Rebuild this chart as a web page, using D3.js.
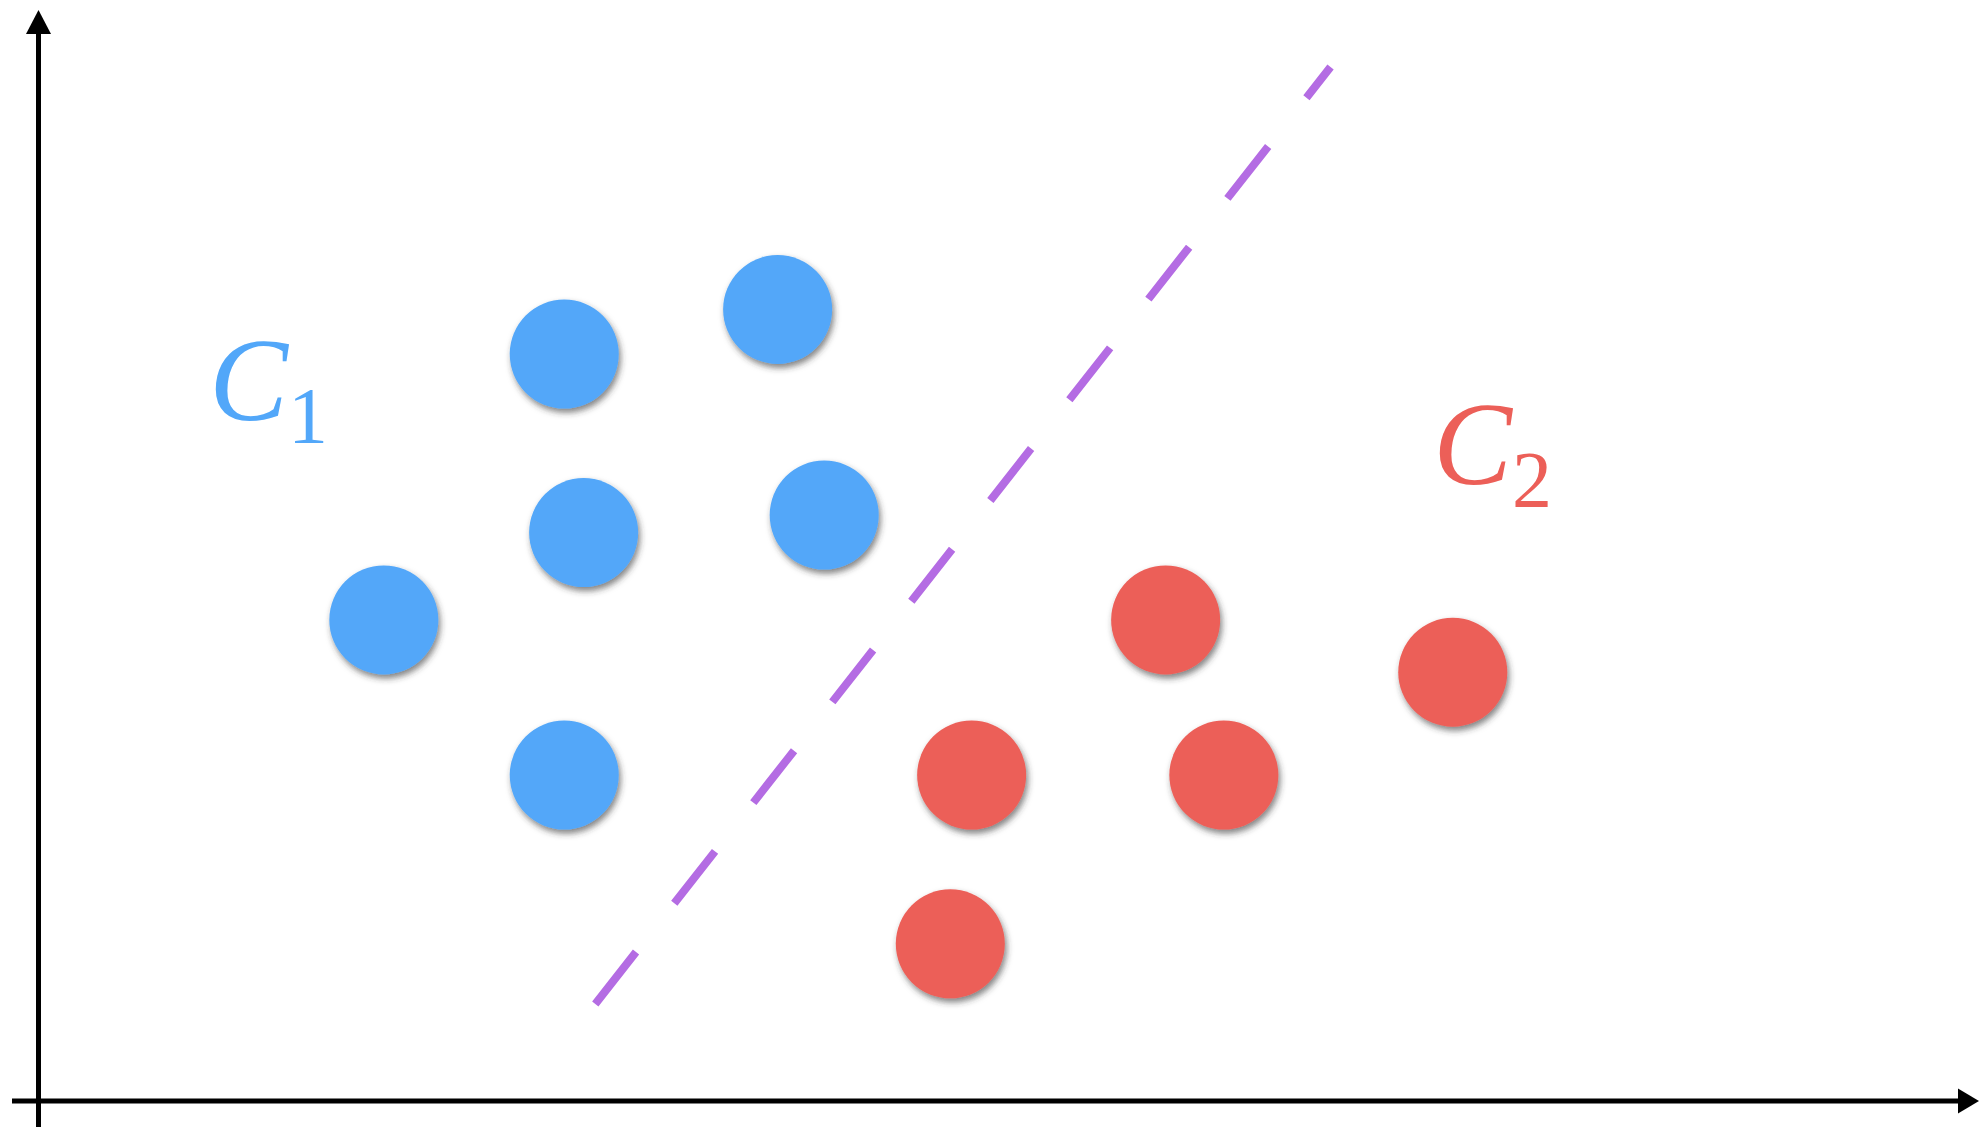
<!DOCTYPE html>
<html>
<head>
  <meta charset="utf-8">
  <title>Two classes</title>
  <script src="https://cdn.jsdelivr.net/npm/d3@7"></script>
  <style>
    body { margin: 0; background: #fff; }
  </style>
</head>
<body>
<script>
  var width = 1979;
  var height = 1129;

  // class C1 (blue) points
  var c1X = [27.1, 38.1, 28.1, 40.5, 17.8, 27.1];
  var c1Y = [38.5, 40.8, 29.3, 30.2, 24.8, 16.8];
  // class C2 (red) points
  var c2X = [58.1, 72.9, 48.1, 61.1, 47.0];
  var c2Y = [24.8, 22.1, 16.8, 16.8, 8.1];
  // separating line (dashed)
  var lineX = [28.7, 66.6];
  var lineY = [5.0, 53.3];
  // class labels
  var labels = [
    { name: "C", sub: "1", x: 8.8, y: 35.1, color: "#52a7f9" },
    { name: "C", sub: "2", x: 71.9, y: 31.8, color: "#ec5f58" }
  ];

  var xScale = d3.scaleLinear().domain([0, 100]).range([38.5, 1978.5]);
  var yScale = d3.scaleLinear().domain([0, 55]).range([1101, 34]);

  var svg = d3.select("body")
    .append("svg")
    .attr("width", width)
    .attr("height", height);

  var defs = svg.append("defs");
  var shadow = defs.append("filter")
    .attr("id", "shadow")
    .attr("x", "-30%").attr("y", "-30%")
    .attr("width", "160%").attr("height", "160%");
  shadow.append("feDropShadow")
    .attr("dx", 2).attr("dy", 4)
    .attr("stdDeviation", 3)
    .attr("flood-color", "#333")
    .attr("flood-opacity", 0.6);

  // axes
  var x0 = xScale(0), y0 = yScale(0);
  svg.append("line")
    .attr("x1", x0).attr("y1", height - 2)
    .attr("x2", x0).attr("y2", 30)
    .attr("stroke", "#000").attr("stroke-width", 5);
  svg.append("path")
    .attr("d", d3.line()([[x0 - 12.5, 34], [x0, 10], [x0 + 12.5, 34]]) + "Z")
    .attr("fill", "#000");
  svg.append("line")
    .attr("x1", 12).attr("y1", y0)
    .attr("x2", width - 20).attr("y2", y0)
    .attr("stroke", "#000").attr("stroke-width", 5);
  svg.append("path")
    .attr("d", d3.line()([[width - 21, y0 - 12.5], [width, y0], [width - 21, y0 + 12.5]]) + "Z")
    .attr("fill", "#000");

  // dashed separator
  svg.append("line")
    .attr("x1", xScale(lineX[0])).attr("y1", yScale(lineY[0]))
    .attr("x2", xScale(lineX[1])).attr("y2", yScale(lineY[1]))
    .attr("stroke", "#b46ce3")
    .attr("stroke-width", 8)
    .attr("stroke-dasharray", "66,62");

  // points
  var r = 54.5;
  svg.append("g")
    .selectAll("circle")
    .data(c1X)
    .enter()
    .append("circle")
    .attr("cx", function(d) { return xScale(d); })
    .attr("cy", function(d, i) { return yScale(c1Y[i]); })
    .attr("r", r)
    .attr("fill", "#52a7f9")
    .attr("filter", "url(#shadow)");

  svg.append("g")
    .selectAll("circle")
    .data(c2X)
    .enter()
    .append("circle")
    .attr("cx", function(d) { return xScale(d); })
    .attr("cy", function(d, i) { return yScale(c2Y[i]); })
    .attr("r", r)
    .attr("fill", "#ec5f58")
    .attr("filter", "url(#shadow)");

  // labels
  var lab = svg.append("g")
    .selectAll("text")
    .data(labels)
    .enter()
    .append("text")
    .attr("x", function(d) { return xScale(d.x); })
    .attr("y", function(d) { return yScale(d.y); })
    .attr("fill", function(d) { return d.color; })
    .style("font-family", "'Liberation Serif', 'DejaVu Serif', serif");
  lab.append("tspan")
    .style("font-style", "italic")
    .style("font-size", "118px")
    .text(function(d) { return d.name; });
  lab.append("tspan")
    .attr("dx", 0)
    .attr("dy", 23)
    .style("font-size", "80px")
    .text(function(d) { return d.sub; });
</script>
</body>
</html>
